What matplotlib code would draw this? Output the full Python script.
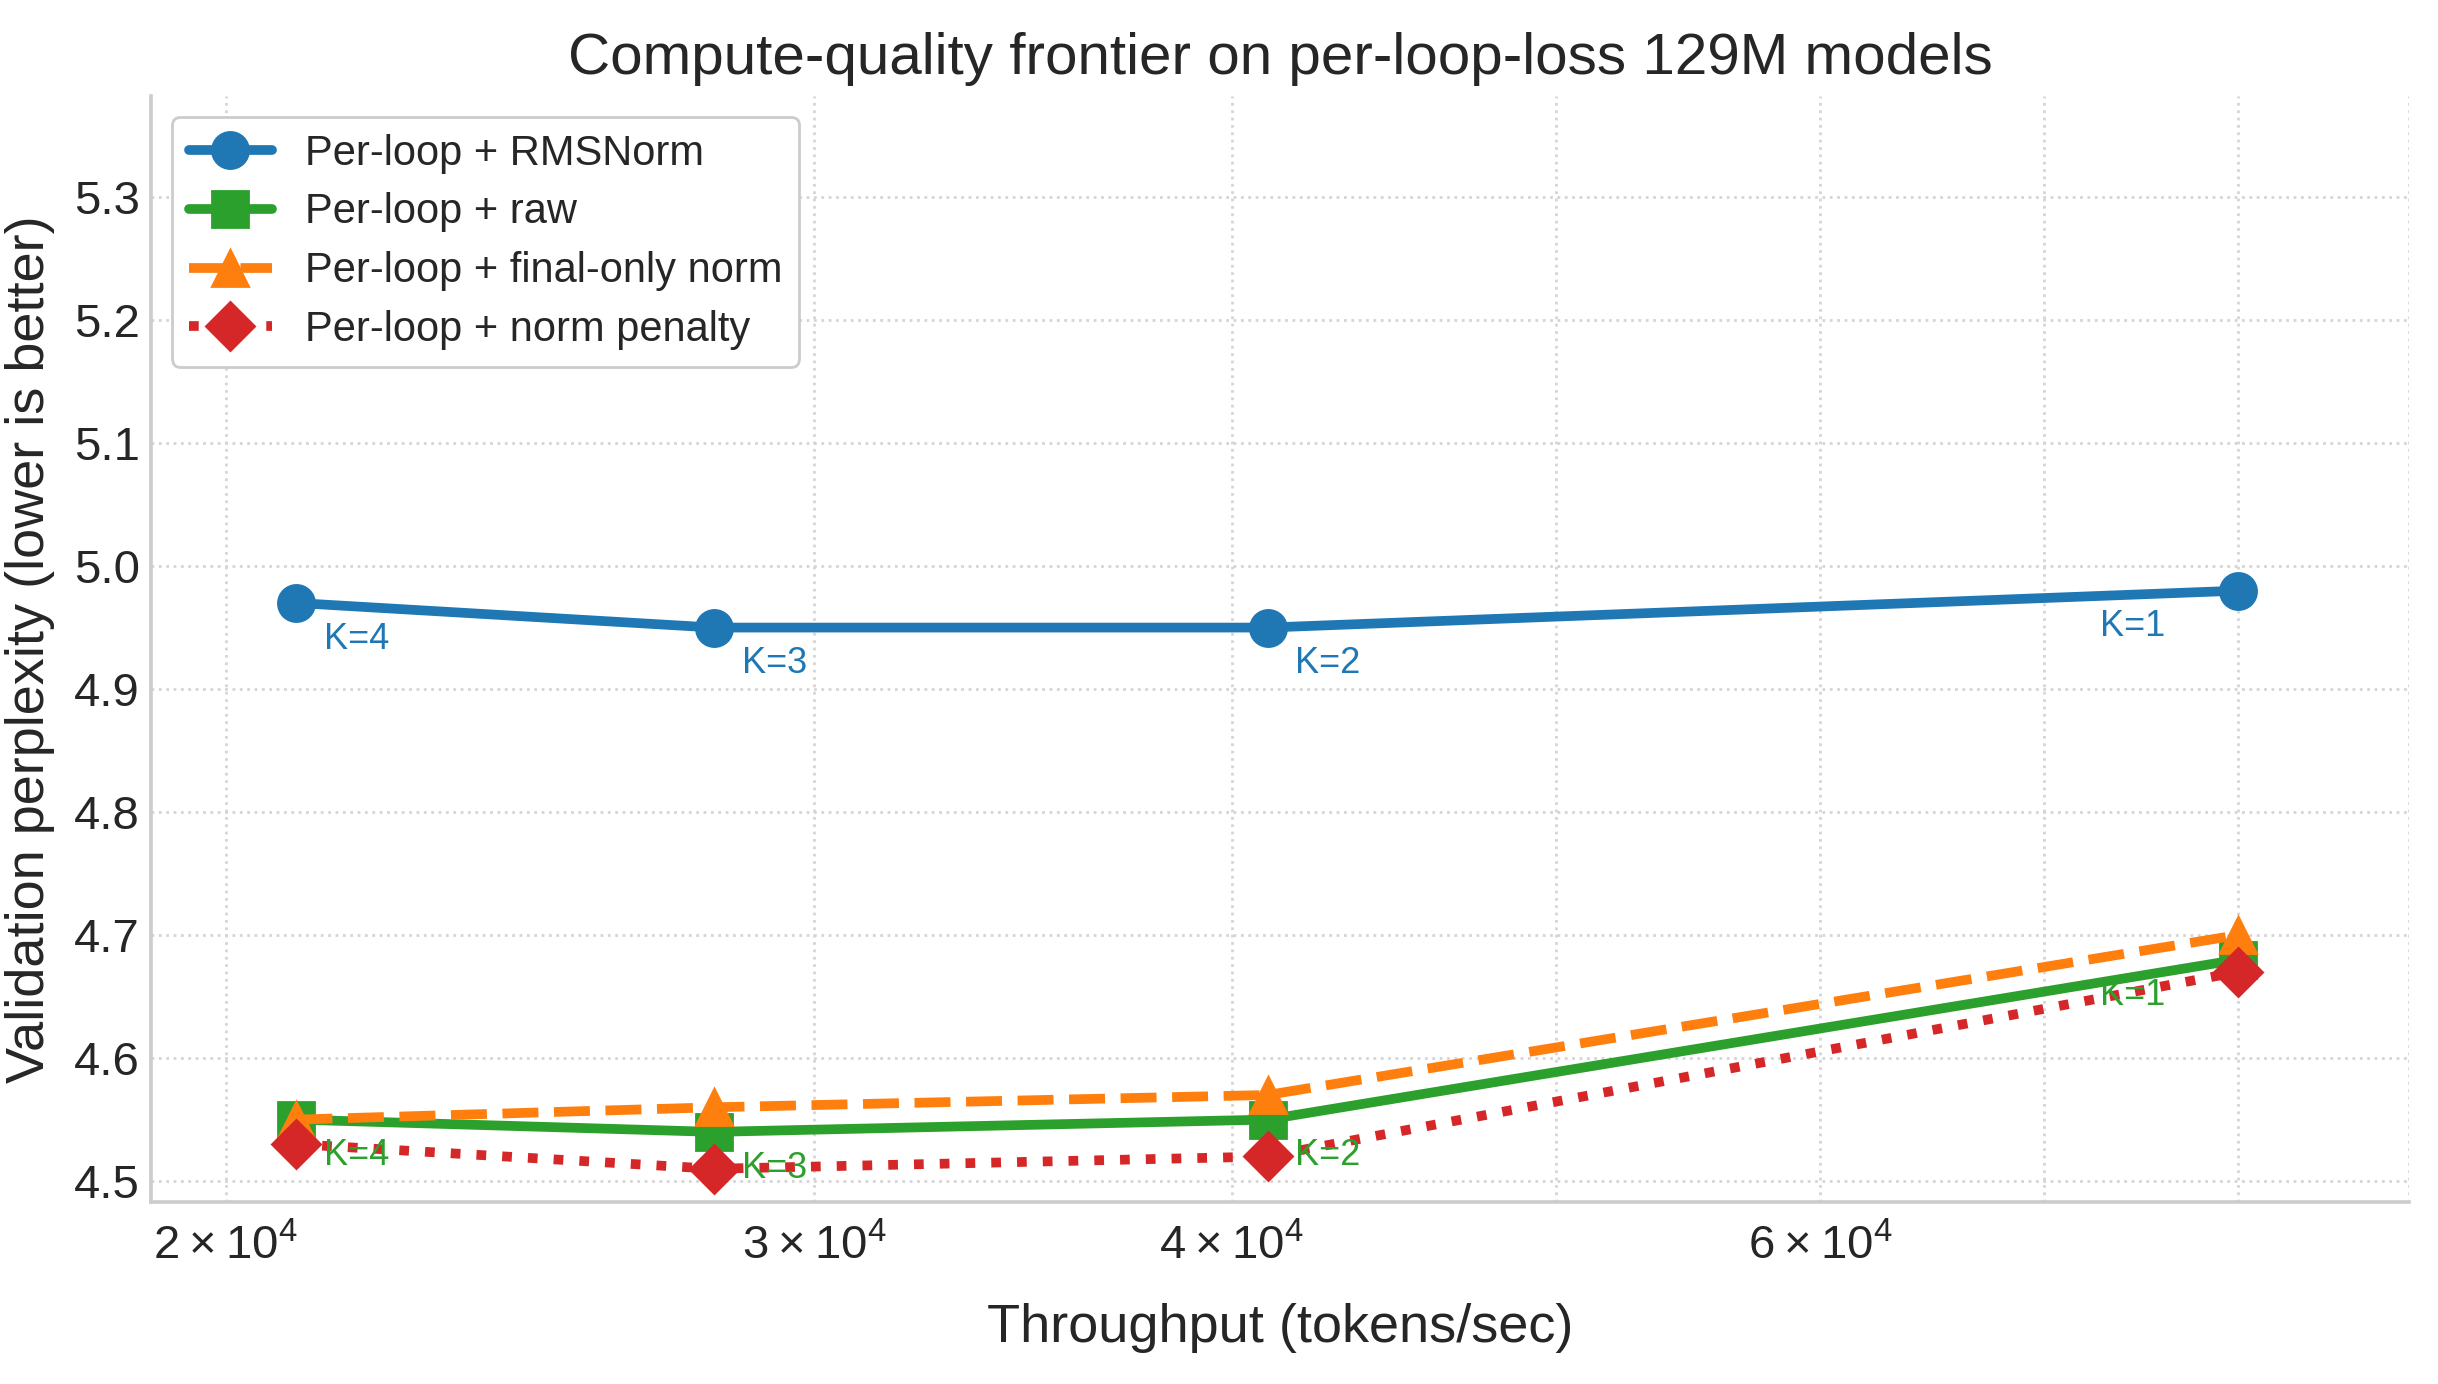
import numpy as np
import matplotlib
matplotlib.use("Agg")
from matplotlib import pyplot as plt
import seaborn as sns

# throughput (tokens/sec) for K = 4, 3, 2, 1
throughput = [21000, 28000, 41000, 80000]
k_labels = ["K=4", "K=3", "K=2", "K=1"]

ppl_rmsnorm = [4.97, 4.95, 4.95, 4.98]
ppl_raw = [4.55, 4.54, 4.55, 4.68]
ppl_final_only = [4.55, 4.56, 4.57, 4.70]
ppl_penalty = [4.53, 4.51, 4.52, 4.67]

sns.set_style("whitegrid")
plt.rcParams["font.family"] = ["Liberation Sans", "DejaVu Sans"]
plt.rcParams["mathtext.default"] = "regular"

fig = plt.figure(figsize=(12.19, 6.92), dpi=200)
ax = fig.add_axes([0.062, 0.1315, 0.926, 0.799])

ax.plot(throughput, ppl_rmsnorm, marker="o", ms=13, lw=3.5, ls="-",
        c="#1f77b4", label="Per-loop + RMSNorm")
ax.plot(throughput, ppl_raw, marker="s", ms=13, lw=3.5, ls="-",
        c="#2ca02c", label="Per-loop + raw")
ax.plot(throughput, ppl_final_only, marker="^", ms=13, lw=3.5, ls="--",
        c="#ff7f0e", label="Per-loop + final-only norm")
ax.plot(throughput, ppl_penalty, marker="D", ms=12, lw=3.5, ls=":",
        c="#d62728", label="Per-loop + norm penalty")

# K labels for the RMSNorm and raw runs
for ys, col in [(ppl_rmsnorm, "#1f77b4"), (ppl_raw, "#2ca02c")]:
    for i, (x, y) in enumerate(zip(throughput, ys)):
        if i == len(throughput) - 1:
            ax.annotate(k_labels[i], (x, y), xytext=(-26, -13), textcoords="offset points",
                        ha="right", va="center", fontsize=13, color=col)
        else:
            ax.annotate(k_labels[i], (x, y), xytext=(10, -13), textcoords="offset points",
                        ha="left", va="center", fontsize=13, color=col)

ax.set_xscale("log")
ax.set_xlim(19000, 90000)
ax.set_ylim(4.483, 5.382)
ax.set_yticks(np.arange(4.5, 5.31, 0.1))
ax.yaxis.set_major_formatter(matplotlib.ticker.FormatStrFormatter("%.1f"))

ax.grid(True, which="both", ls=":", lw=1.0, color="#d5d5d5")
for s in ["top", "right"]:
    ax.spines[s].set_visible(False)
for s in ["left", "bottom"]:
    ax.spines[s].set_color("#cccccc")
    ax.spines[s].set_linewidth(1.3)
ax.tick_params(axis="y", labelsize=17, length=0, which="both", pad=4)
ax.tick_params(axis="x", labelsize=17, length=0, which="both", pad=8)

ax.set_xlabel("Throughput (tokens/sec)", fontsize=19.5, labelpad=12)
ax.set_ylabel("Validation perplexity (lower is better)", fontsize=19.5, labelpad=7)
ax.set_title("Compute-quality frontier on per-loop-loss 129M models", fontsize=21, pad=8)

ax.legend(loc="upper left", fontsize=15, frameon=True, edgecolor="#cccccc",
          framealpha=1, labelspacing=0.45)

plt.savefig("out.png", dpi=200)
